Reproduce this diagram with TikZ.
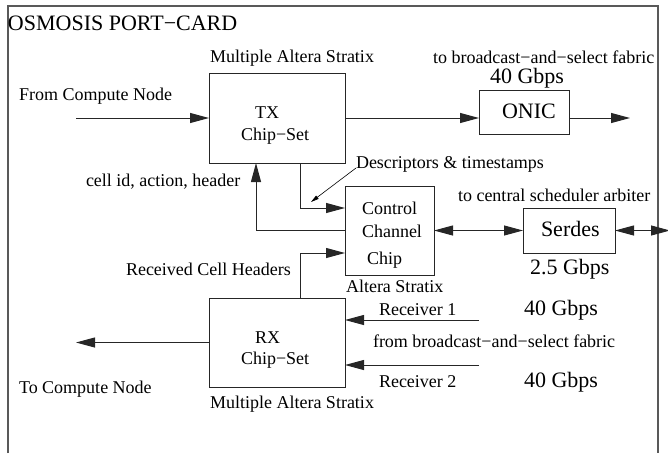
\documentclass[tikz,border=0pt]{standalone}
\usepackage{fontspec}
\setmainfont{Liberation Serif}
\usetikzlibrary{arrows.meta}
\begin{document}
\begin{tikzpicture}[x=1pt,y=-1pt,
  blk/.style={draw=black!85, line width=1pt, rectangle, inner sep=0pt, outer sep=0pt},
  lbl/.style={inner sep=0pt, outer sep=0pt, anchor=base west, font=\fontsize{18}{21}\selectfont},
  big/.style={lbl, font=\fontsize{22}{26}\selectfont},
  conn/.style={draw=black!85, line width=1pt, -{Triangle[length=19pt,width=10pt]}},
  dbl/.style={draw=black!85, line width=1pt, {Triangle[length=19pt,width=10pt]}-{Triangle[length=19pt,width=10pt]}},
  pointer/.style={draw=black, line width=0.6pt, -{Triangle[length=8pt,width=4pt]}},
  cardframe/.style={draw=black!65, line width=1.3pt}]
\useasboundingbox (0,0) rectangle (668,453);

% port-card outline, open at the bottom
\draw[cardframe] (8,453) -- (8,6) -- (658,6) -- (658,453);
\node[big] (title) at (8,30) {OSMOSIS PORT−CARD};

% blocks
\node[blk, minimum width=136pt, minimum height=90pt] (tx) at (277,118) {};
\node[blk, minimum width=90pt, minimum height=44pt] (onic) at (524,112) {};
\node[blk, minimum width=89pt, minimum height=89pt] (ccc) at (389.5,230.5) {};
\node[blk, minimum width=92pt, minimum height=45pt] (serdes) at (569,230.5) {};
\node[blk, minimum width=136pt, minimum height=89pt] (rx) at (277,342.5) {};

% block texts
\node[lbl] (txa) at (255,118) {TX};
\node[lbl] (txb) at (241,140) {Chip−Set};
\node[big] (onict) at (502,118) {ONIC};
\node[lbl] (ccca) at (362,214) {Control};
\node[lbl] (cccb) at (362,237) {Channel};
\node[lbl] (cccc) at (367,264) {Chip};
\node[big] (serdest) at (541,236) {Serdes};
\node[lbl] (rxa) at (255,343) {RX};
\node[lbl] (rxb) at (241,364) {Chip−Set};

% annotations
\node[lbl] (txdev) at (210,62) {Multiple Altera Stratix};
\node[lbl] (fromcnt) at (19,100) {From Compute Node};
\node[lbl] (bsf1) at (433,63) {to broadcast−and−select fabric};
\node[big] (onicrate) at (490,83.5) {40 Gbps};
\node[lbl] (desc) at (356,168) {Descriptors \& timestamps};
\node[lbl] (cellid) at (86,186) {cell id, action, header};
\node[lbl] (csa) at (458,201) {to central scheduler arbiter};
\node[big] (serdesrate) at (530,274) {2.5 Gbps};
\node[lbl] (rch) at (126,275) {Received Cell Headers};
\node[lbl] (cccdev) at (346,292) {Altera Stratix};
\node[lbl] (rcv1) at (379,315) {Receiver 1};
\node[big] (rate1) at (524,315) {40 Gbps};
\node[lbl] (bsf2) at (373,347) {from broadcast−and−select fabric};
\node[lbl] (rcv2) at (379,387) {Receiver 2};
\node[big] (rate2) at (524,387) {40 Gbps};
\node[lbl] (tocnt) at (19,393) {To Compute Node};
\node[lbl] (rxdev) at (210,408) {Multiple Altera Stratix};

% free ends of the connectors
\coordinate (fromcn) at (76,118);
\coordinate (fabout) at (630,118);
\coordinate (sched) at (670,230.5);
\coordinate (tocn) at (76,342.5);
\coordinate (in1) at (479,320);
\coordinate (in2) at (479,365);
\coordinate (desctip) at (311,202);

% data paths
\draw[conn] (fromcn) -- (tx.west);
\draw[conn] (tx.east) -- (tx.east -| onic.west);
\draw[conn] (fabout -| onic.east) -- (fabout);
\draw[conn] ([xshift=23pt]tx.south) |- ([yshift=22.5pt]ccc.west);
\draw[conn] (ccc.west) -| ([xshift=-21pt]tx.south);
\draw[conn] ([xshift=23pt]rx.north) |- ([yshift=-22.5pt]ccc.west);
\draw[dbl] (ccc.east) -- (serdes.west);
\draw[dbl] (serdes.east) -- (sched);
\draw[conn] (rx.west) -- (tocn);
\draw[conn] (in1) -- (in1 -| rx.east);
\draw[conn] (in2) -- (in2 -| rx.east);
\draw[pointer] (desc.base west) -- (desctip);
\end{tikzpicture}
\end{document}
